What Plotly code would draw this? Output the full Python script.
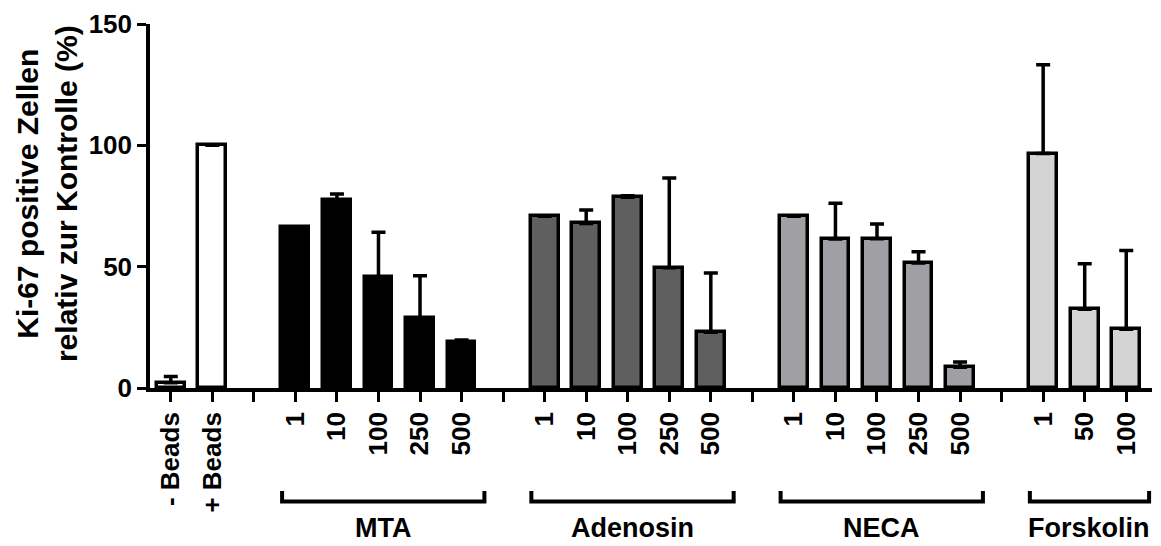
import plotly.graph_objects as go

# Controls
ctrl_labels = ["- Beads", "+ Beads"]
ctrl_values = [2.2, 100.0]
ctrl_err = [2.5, 0.0]

# Treatment groups: concentrations, means and SEM (upper whisker)
mta_conc = ["1", "10", "100", "250", "500"]
mta_values = [66.3, 77.3, 45.8, 28.7, 19.0]
mta_err = [0.0, 2.6, 18.4, 17.6, 0.8]

aden_conc = ["1", "10", "100", "250", "500"]
aden_values = [70.8, 67.8, 78.6, 49.6, 23.0]
aden_err = [0.0, 5.6, 0.6, 36.9, 24.4]

neca_conc = ["1", "10", "100", "250", "500"]
neca_values = [70.8, 61.4, 61.5, 51.5, 8.5]
neca_err = [0.0, 14.7, 6.1, 4.6, 2.2]

forsk_conc = ["1", "50", "100"]
forsk_values = [96.6, 32.5, 24.2]
forsk_err = [36.6, 18.7, 32.5]

group_names = ["MTA", "Adenosin", "NECA", "Forskolin"]

FONT = "Liberation Sans, Arial, Helvetica, sans-serif"
BAR_W = 0.67
OUTLINE = 3.5

# Lay out category slots, leaving one empty slot between groups
slot_labels = []
positions = {}
slot = 0
positions["ctrl"] = list(range(slot, slot + len(ctrl_labels)))
slot_labels += ctrl_labels
slot += len(ctrl_labels)
groups = [
    ("MTA", mta_conc, mta_values, mta_err, "#000000"),
    ("Adenosin", aden_conc, aden_values, aden_err, "#5f5f5f"),
    ("NECA", neca_conc, neca_values, neca_err, "#a0a0a4"),
    ("Forskolin", forsk_conc, forsk_values, forsk_err, "#d4d4d4"),
]
for name, conc, vals, errs, col in groups:
    slot_labels.append("")
    slot += 1
    positions[name] = list(range(slot, slot + len(conc)))
    slot_labels += conc
    slot += len(conc)

fig = go.Figure()


def add_bars(xs, ys, errs, fill):
    fig.add_trace(go.Bar(
        x=xs, y=ys, width=BAR_W,
        marker=dict(color=fill, line=dict(color="black", width=OUTLINE)),
        error_y=dict(type="data", symmetric=False, array=errs,
                     arrayminus=[0] * len(errs), color="black",
                     thickness=3.5, width=7),
        showlegend=False,
    ))


add_bars(positions["ctrl"], ctrl_values, ctrl_err, "white")
for name, conc, vals, errs, col in groups:
    add_bars(positions[name], vals, errs, col)

# Group brackets and names beneath the concentration labels
y_line = -0.312
y_tip = -0.283
for name in group_names:
    xs = positions[name]
    x0, x1 = xs[0] - 0.32, xs[-1] + 0.55
    fig.add_shape(type="path", xref="x", yref="paper",
                  path=f"M {x0},{y_tip} L {x0},{y_line} L {x1},{y_line} L {x1},{y_tip}",
                  line=dict(color="black", width=4))
    fig.add_annotation(x=(x0 + x1) / 2, y=-0.385, xref="x", yref="paper",
                       text=name, showarrow=False, xanchor="center", yanchor="middle",
                       font=dict(family=FONT, size=27, color="black", weight="bold"))

# Y axis title
fig.add_annotation(x=-0.103, y=0.535, xref="paper", yref="paper",
                   text="Ki-67 positive Zellen<br>relativ zur Kontrolle (%)",
                   textangle=-90, showarrow=False, xanchor="center", yanchor="middle",
                   font=dict(family=FONT, size=30, color="black", weight="bold"))

fig.update_layout(
    width=1161, height=546,
    margin=dict(l=150, r=9, t=22, b=158),
    plot_bgcolor="white", paper_bgcolor="white",
    bargap=0,
    font=dict(family=FONT, color="black"),
)
fig.update_xaxes(
    range=[-0.5, 23.62], tickmode="array",
    tickvals=list(range(len(slot_labels))), ticktext=slot_labels,
    tickangle=-90, ticks="outside", ticklen=10, tickwidth=3, tickcolor="black",
    showline=True, linewidth=3.5, linecolor="black", showgrid=False, zeroline=False,
    tickfont=dict(family=FONT, size=26, color="black", weight="bold"),
)
fig.update_yaxes(
    range=[0, 150], tickvals=[0, 50, 100, 150],
    ticks="outside", ticklen=9, tickwidth=3, tickcolor="black",
    showline=True, linewidth=3.5, linecolor="black", showgrid=False, zeroline=False,
    tickfont=dict(family=FONT, size=26, color="black", weight="bold"),
)

fig.write_html("out.html")
